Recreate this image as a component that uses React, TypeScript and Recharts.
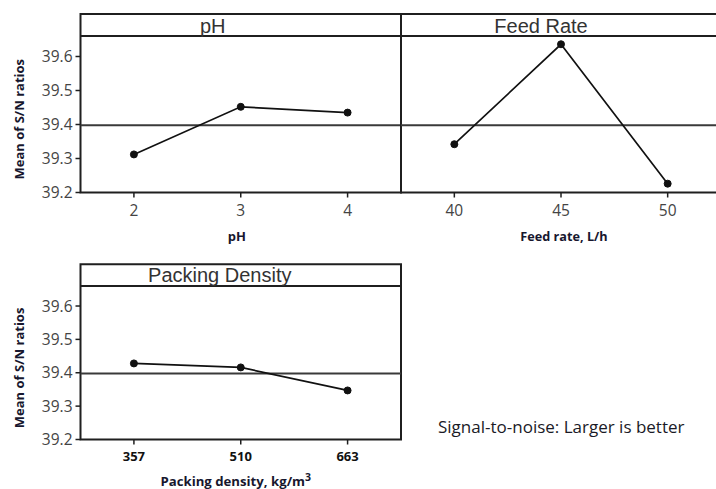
import { Line, LineChart, ReferenceArea, ReferenceLine, XAxis, YAxis } from 'recharts';

// level means of the S/N ratio
const phLevels = [2, 3, 4];
const phSn = [39.312, 39.452, 39.435];
const feedLevels = [40, 45, 50];
const feedSn = [39.342, 39.636, 39.226];
const packingLevels = [357, 510, 663];
const packingSn = [39.428, 39.416, 39.347];

const snTicks = [39.2, 39.3, 39.4, 39.5, 39.6];
const grandMean = 39.398;
const yBottom = 39.2;
const yTop = 39.725;
const headerLine = 39.66;

const INK = '#1f1f1f';
const TICK_GRAY = '#444';
const LABEL_INK = '#17172e';
const SANS = '"Open Sans", sans-serif';

const toRows = (levels: number[], values: number[]) => levels.map((level, i) => ({ level, sn: values[i] }));

const YTick = ({ x, y, payload }: any) => (
  <text x={x} y={y + 5.5} textAnchor="end" fontFamily={SANS} fontSize={15.5} fill={TICK_GRAY}>
    {Number(payload.value).toFixed(1)}
  </text>
);

const XTick = ({ x, y, payload, bold }: any) =>
  bold ? (
    <text x={x} y={y + 16} textAnchor="middle" fontFamily={SANS} fontSize={13} fontWeight={700} fill="#111">
      {payload.value}
    </text>
  ) : (
    <text x={x} y={y + 18} textAnchor="middle" fontFamily={SANS} fontSize={15.5} fill={TICK_GRAY}>
      {payload.value}
    </text>
  );

const YTitle = ({ viewBox }: any) => {
  const vb = viewBox || { x: 0, y: 0, width: 80, height: 178 };
  const cx = 19;
  const cy = vb.y + vb.height / 2 + 16;
  return (
    <text
      x={cx}
      y={cy}
      transform={`rotate(-90 ${cx} ${cy})`}
      textAnchor="middle"
      dominantBaseline="central"
      fontFamily={SANS}
      fontSize={13}
      fontWeight={700}
      fill={LABEL_INK}
    >
      Mean of S/N ratios
    </text>
  );
};

const XTitle = ({ viewBox, text, sup, shift = 0, baseline = 48, size = 12.5 }: any) => {
  const vb = viewBox || { x: 0, y: 0, width: 320, height: 50 };
  return (
    <text
      x={vb.x + vb.width / 2 + shift}
      y={vb.y + baseline}
      textAnchor="middle"
      fontFamily={SANS}
      fontSize={size}
      fontWeight={700}
      fill={LABEL_INK}
    >
      {text}
      {sup ? (
        <tspan dy={-5} fontSize={10.5}>
          {sup}
        </tspan>
      ) : null}
    </text>
  );
};

const PanelTitle = ({ viewBox, text, shift = 0 }: any) => {
  const vb = viewBox || { x: 0, y: 0, width: 320, height: 0 };
  return (
    <text
      x={vb.x + vb.width / 2 + shift}
      y={vb.y - 3.5}
      textAnchor="middle"
      fontFamily='"Liberation Sans", Arial, sans-serif'
      fontSize={20}
      fill="#333"
    >
      {text}
    </text>
  );
};

interface PanelProps {
  levels: number[];
  values: number[];
  title: string;
  titleShift: number;
  xLabel: string;
  xLabelSup?: string;
  xLabelShift?: number;
  xLabelBaseline: number;
  xLabelSize?: number;
  showY: boolean;
  boldTicks?: boolean;
  left: number;
  top: number;
  width: number;
  height: number;
  marginTop: number;
  marginLeft: number;
  xAxisHeight: number;
}

function EffectPanel(p: PanelProps) {
  const step = p.levels[1] - p.levels[0];
  const domain = [p.levels[0] - step / 2, p.levels[p.levels.length - 1] + step / 2];
  return (
    <div style={{ position: 'absolute', left: p.left, top: p.top }}>
      <LineChart
        width={p.width}
        height={p.height}
        data={toRows(p.levels, p.values)}
        margin={{ top: p.marginTop, right: 4, bottom: 0, left: p.marginLeft }}
      >
        <XAxis
          dataKey="level"
          type="number"
          domain={domain}
          ticks={p.levels}
          axisLine={false}
          tickLine={{ stroke: INK, strokeWidth: 1.5 }}
          tickSize={5}
          tickMargin={0}
          height={p.xAxisHeight}
          tick={<XTick bold={p.boldTicks} />}
          label={
            <XTitle
              text={p.xLabel}
              sup={p.xLabelSup}
              shift={p.xLabelShift}
              baseline={p.xLabelBaseline}
              size={p.xLabelSize}
            />
          }
        />
        <YAxis
          type="number"
          domain={[yBottom, yTop]}
          ticks={snTicks}
          hide={!p.showY}
          width={80.5}
          axisLine={false}
          tickLine={{ stroke: INK, strokeWidth: 1.5 }}
          tickSize={5}
          tickMargin={3}
          tick={<YTick />}
          label={<YTitle />}
        />
        <ReferenceArea
          x1={domain[0]}
          x2={domain[1]}
          y1={yBottom}
          y2={yTop}
          fill="none"
          fillOpacity={0}
          stroke={INK}
          strokeWidth={2}
        />
        <ReferenceLine
          y={headerLine}
          stroke={INK}
          strokeWidth={2}
          label={<PanelTitle text={p.title} shift={p.titleShift} />}
        />
        <ReferenceLine y={grandMean} stroke="#3a3a3a" strokeWidth={2} />
        <Line
          type="linear"
          dataKey="sn"
          stroke="#111"
          strokeWidth={1.7}
          dot={{ r: 3.5, fill: '#111', stroke: '#111', strokeWidth: 1 }}
          isAnimationActive={false}
        />
      </LineChart>
    </div>
  );
}

export default function App() {
  return (
    <div
      style={{
        position: 'absolute',
        left: 0,
        top: 0,
        width: 716,
        height: 489,
        overflow: 'hidden',
        background: '#fff',
      }}
    >
      <EffectPanel
        levels={phLevels}
        values={phSn}
        title="pH"
        titleShift={-28}
        xLabel="pH"
        xLabelShift={-4}
        xLabelBaseline={48}
        xLabelSize={13}
        showY
        left={0}
        top={0}
        width={405}
        height={248}
        marginTop={14}
        marginLeft={0}
        xAxisHeight={55.5}
      />
      <EffectPanel
        levels={feedLevels}
        values={feedSn}
        title="Feed Rate"
        titleShift={-20}
        xLabel="Feed rate, L/h"
        xLabelShift={3}
        xLabelBaseline={48}
        xLabelSize={12.7}
        showY={false}
        left={397}
        top={0}
        width={328}
        height={248}
        marginTop={14}
        marginLeft={4}
        xAxisHeight={55.5}
      />
      <EffectPanel
        levels={packingLevels}
        values={packingSn}
        title="Packing Density"
        titleShift={-21}
        xLabel="Packing density, kg/m"
        xLabelSup="3"
        xLabelShift={-5}
        xLabelBaseline={46}
        xLabelSize={13.2}
        showY
        boldTicks
        left={0}
        top={250}
        width={405}
        height={239}
        marginTop={14.3}
        marginLeft={0}
        xAxisHeight={49.5}
      />
      <svg style={{ position: 'absolute', left: 420, top: 405 }} width={290} height={40}>
        <text x={18} y={28} fontFamily={SANS} fontSize={17} fill="#1a1a26">
          Signal-to-noise: Larger is better
        </text>
      </svg>
    </div>
  );
}
